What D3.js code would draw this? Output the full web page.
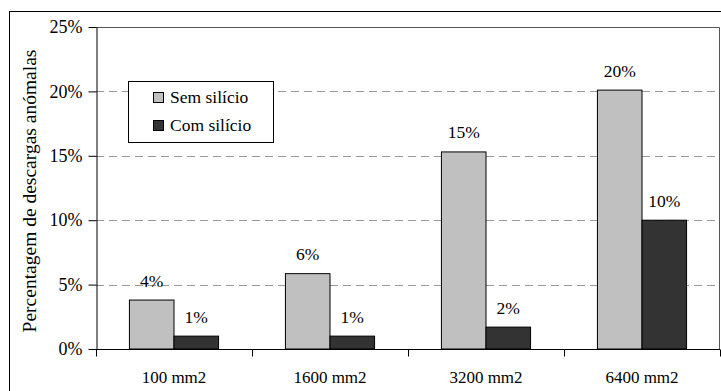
<!DOCTYPE html>
<html>
<head>
<meta charset="utf-8">
<script src="https://cdn.jsdelivr.net/npm/d3@7/dist/d3.min.js"></script>
<style>
  html, body { margin: 0; padding: 0; background: #fff; }
  svg { display: block; font-family: "Liberation Serif", "Times New Roman", serif; }
</style>
</head>
<body>
<svg id="chart" width="721" height="391"></svg>
<script>
// Anomalous discharge rate by electrode area, with and without silicon
const categories = ["100 mm2", "1600 mm2", "3200 mm2", "6400 mm2"];
const seriesNames = ["Sem silício", "Com silício"];
const semSilicio = [0.038, 0.0585, 0.153, 0.201];
const comSilicio = [0.010, 0.010, 0.017, 0.100];
const yTicks = [0, 0.05, 0.10, 0.15, 0.20, 0.25];
const seriesColors = ["#c0c0c0", "#333333"];

const series = [semSilicio, comSilicio];

const svg = d3.select("#chart");
const serif = "Liberation Serif";

// outer chart frame
svg.append("rect")
  .attr("x", 9.5).attr("y", 11.5)
  .attr("width", 730).attr("height", 400)
  .attr("fill", "none").attr("stroke", "#000").attr("stroke-width", 1);

const plot = { left: 96, right: 720, top: 27, bottom: 349 };

const x = d3.scaleBand().domain(categories).range([plot.left, plot.right]).padding(0);
const xInner = d3.scaleBand().domain(seriesNames).range([0, x.bandwidth()])
  .paddingInner(0).paddingOuter(0.75);
const y = d3.scaleLinear().domain([0, 0.25]).range([plot.bottom, plot.top]);

// dashed gridlines
svg.append("g").selectAll("line")
  .data(yTicks.filter(t => t > 0 && t < 0.25))
  .join("line")
  .attr("x1", plot.left).attr("x2", plot.right)
  .attr("y1", d => Math.round(y(d)) + 0.5).attr("y2", d => Math.round(y(d)) + 0.5)
  .attr("stroke", "#999").attr("stroke-width", 1)
  .attr("stroke-dasharray", "8,5");

// plot area top and right edges
svg.append("path")
  .attr("d", `M${plot.left},${plot.top + 0.5}H${plot.right - 0.5}V${plot.bottom}`)
  .attr("fill", "none").attr("stroke", "#555").attr("stroke-width", 1);

// bars
const groups = svg.append("g").selectAll("g")
  .data(categories)
  .join("g")
  .attr("transform", d => `translate(${x(d)},0)`);

groups.selectAll("rect")
  .data((d, i) => seriesNames.map((s, j) => ({ s, v: series[j][i], color: seriesColors[j] })))
  .join("rect")
  .attr("x", d => xInner(d.s))
  .attr("y", d => y(d.v))
  .attr("width", xInner.bandwidth())
  .attr("height", d => y(0) - y(d.v))
  .attr("fill", d => d.color)
  .attr("stroke", "#000").attr("stroke-width", 1);

// value labels
const pct = d3.format(".0%");
groups.selectAll("text")
  .data((d, i) => seriesNames.map((s, j) => ({ s, v: series[j][i] })))
  .join("text")
  .attr("x", d => xInner(d.s) + xInner.bandwidth() / 2)
  .attr("y", d => y(d.v) - 13.5)
  .attr("text-anchor", "middle")
  .attr("font-family", serif)
  .attr("font-size", 17.5)
  .attr("fill", "#000")
  .text(d => pct(d.v));

// y axis
const yAxis = svg.append("g")
  .attr("transform", `translate(${plot.left + 0.5},0)`)
  .call(d3.axisLeft(y).tickValues(yTicks).tickFormat(pct).tickSize(8).tickSizeOuter(0).tickPadding(6));
yAxis.selectAll("text").attr("font-size", 18).attr("font-family", serif).attr("fill", "#000");
yAxis.selectAll("line,path").attr("stroke", "#000");

// x axis: ticks at category boundaries
const xAxis = svg.append("g").attr("transform", `translate(0,${plot.bottom + 0.5})`);
xAxis.append("line")
  .attr("x1", plot.left).attr("x2", plot.right)
  .attr("stroke", "#000");
xAxis.selectAll("line.tick")
  .data(categories.map(c => x(c)).concat([plot.right]))
  .join("line")
  .attr("class", "tick")
  .attr("x1", d => Math.round(d) + 0.5).attr("x2", d => Math.round(d) + 0.5)
  .attr("y1", 0).attr("y2", 7)
  .attr("stroke", "#000");
xAxis.selectAll("text")
  .data(categories)
  .join("text")
  .attr("x", d => x(d) + x.bandwidth() / 2)
  .attr("y", 33)
  .attr("text-anchor", "middle")
  .attr("font-family", serif)
  .attr("font-size", 17)
  .text(d => d);

// y axis title
svg.append("text")
  .attr("transform", `translate(36,${191}) rotate(-90)`)
  .attr("text-anchor", "middle")
  .attr("font-family", serif)
  .attr("font-size", 19.5)
  .text("Percentagem de descargas anómalas");

// legend
const legend = svg.append("g");
legend.append("rect")
  .attr("x", 128.5).attr("y", 81.5).attr("width", 145).attr("height", 61)
  .attr("fill", "#fff").attr("stroke", "#000");
const legendItems = legend.selectAll("g.item")
  .data(seriesNames)
  .join("g")
  .attr("class", "item")
  .attr("transform", (d, i) => `translate(153,${92 + i * 28})`);
legendItems.append("rect")
  .attr("x", 0.5).attr("y", 0.5).attr("width", 10).attr("height", 10)
  .attr("fill", (d, i) => seriesColors[i]).attr("stroke", "#000");
legendItems.append("text")
  .attr("x", 17).attr("y", 11)
  .attr("font-family", serif)
  .attr("font-size", 17.5)
  .text(d => d);
</script>
</body>
</html>
